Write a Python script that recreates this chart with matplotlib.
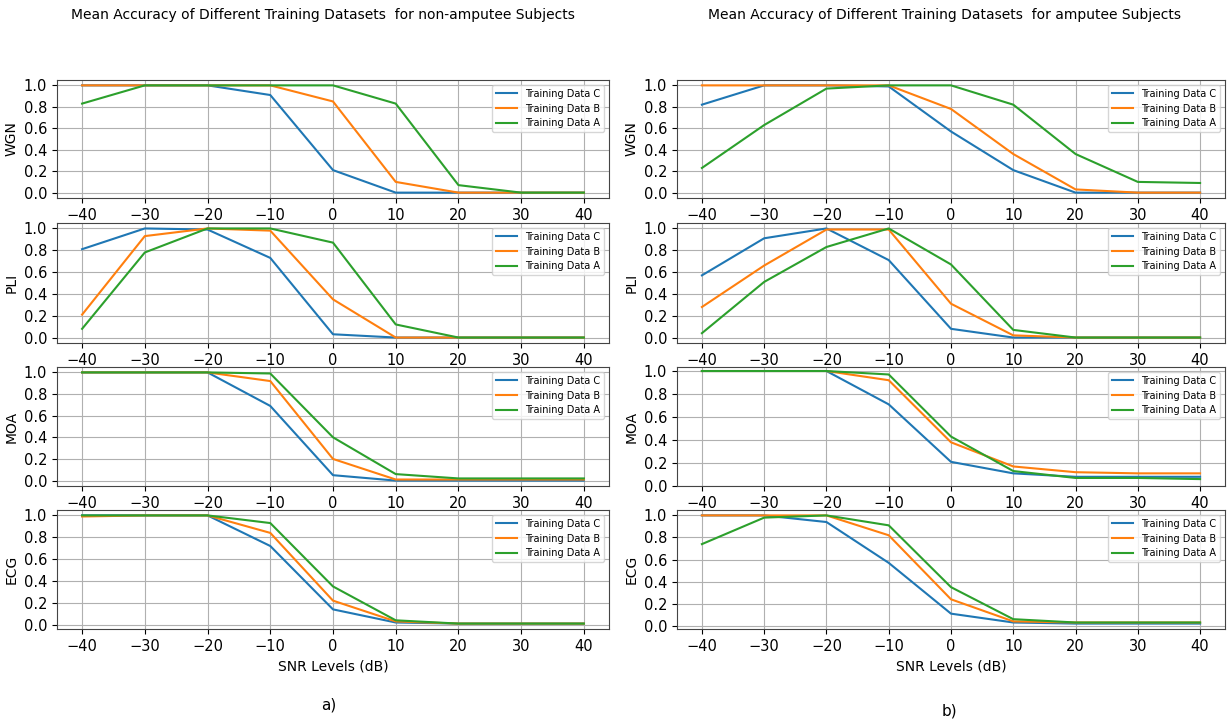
import matplotlib
matplotlib.use("Agg")
import matplotlib.pyplot as plt
import numpy as np

snr = [-40, -30, -20, -10, 0, 10, 20, 30, 40]
noise_types = ["WGN", "PLI", "MOA", "ECG"]
labels = ["Training Data C", "Training Data B", "Training Data A"]

# non-amputee subjects (a)
wgn_a = [[1.0, 1.0, 1.0, 0.91, 0.21, 0.0, 0.0, 0.0, 0.0],
         [1.0, 1.0, 1.0, 1.0, 0.85, 0.10, 0.0, 0.0, 0.0],
         [0.83, 1.0, 1.0, 1.0, 1.0, 0.83, 0.07, 0.0, 0.0]]
pli_a = [[0.81, 1.0, 0.99, 0.73, 0.03, 0.0, 0.0, 0.0, 0.0],
         [0.21, 0.93, 1.0, 0.98, 0.35, 0.0, 0.0, 0.0, 0.0],
         [0.08, 0.78, 1.0, 1.0, 0.87, 0.12, 0.0, 0.0, 0.0]]
moa_a = [[1.0, 1.0, 1.0, 0.69, 0.05, 0.0, 0.0, 0.0, 0.0],
         [1.0, 1.0, 1.0, 0.92, 0.20, 0.01, 0.01, 0.01, 0.01],
         [1.0, 1.0, 1.0, 0.99, 0.40, 0.06, 0.02, 0.02, 0.02]]
ecg_a = [[1.0, 1.0, 1.0, 0.72, 0.14, 0.02, 0.01, 0.01, 0.01],
         [0.99, 1.0, 1.0, 0.84, 0.22, 0.03, 0.01, 0.01, 0.01],
         [1.0, 1.0, 1.0, 0.93, 0.35, 0.04, 0.01, 0.01, 0.01]]

# amputee subjects (b)
wgn_b = [[0.82, 1.0, 1.0, 0.99, 0.57, 0.21, 0.0, 0.0, 0.0],
         [1.0, 1.0, 1.0, 1.0, 0.78, 0.36, 0.03, 0.0, 0.0],
         [0.23, 0.63, 0.97, 1.0, 1.0, 0.82, 0.36, 0.10, 0.09]]
pli_b = [[0.57, 0.91, 1.0, 0.71, 0.08, 0.0, 0.0, 0.0, 0.0],
         [0.28, 0.66, 0.99, 0.99, 0.31, 0.02, 0.0, 0.0, 0.0],
         [0.04, 0.51, 0.83, 1.0, 0.67, 0.07, 0.0, 0.0, 0.0]]
moa_b = [[1.0, 1.0, 1.0, 0.71, 0.21, 0.11, 0.08, 0.08, 0.08],
         [1.0, 1.0, 1.0, 0.92, 0.38, 0.17, 0.12, 0.11, 0.11],
         [1.0, 1.0, 1.0, 0.97, 0.43, 0.13, 0.07, 0.07, 0.06]]
ecg_b = [[1.0, 1.0, 0.94, 0.57, 0.11, 0.03, 0.02, 0.02, 0.02],
         [1.0, 1.0, 1.0, 0.82, 0.24, 0.04, 0.03, 0.03, 0.03],
         [0.74, 0.98, 1.0, 0.91, 0.35, 0.06, 0.03, 0.03, 0.03]]

W, H = 1227, 723
fig = plt.figure(figsize=(W / 100, H / 100), dpi=100)

cols = [(57, 609, [wgn_a, pli_a, moa_a, ecg_a]),
        (677, 1225, [wgn_b, pli_b, moa_b, ecg_b])]
rows = [(80, 198), (223, 343), (367, 486), (510, 629)]
colors = ["#1f77b4", "#ff7f0e", "#2ca02c"]

for ci, (x0, x1, panels) in enumerate(cols):
    for ri, (y0, y1) in enumerate(rows):
        ax = fig.add_axes([x0 / W, 1 - y1 / H, (x1 - x0) / W, (y1 - y0) / H])
        for k in range(3):
            ax.plot(snr, panels[ri][k], color=colors[k], lw=1.5, label=labels[k])
        ax.set_xticks(snr)
        ax.set_yticks([0.0, 0.2, 0.4, 0.6, 0.8, 1.0])
        ax.set_ylabel(noise_types[ri], fontsize=10)
        ax.tick_params(labelsize=10.5)
        ax.grid(True)
        if ci == 1 and ri == 2:
            ax.set_ylim(0, 1.035)
        ax.legend(loc="upper right", fontsize=7, handlelength=2.2)
        for s in ax.spines.values():
            s.set_edgecolor("#444444")
        if ri == 3:
            ax.set_xlabel("SNR Levels (dB)", fontsize=10)

fig.text(323 / W, 1 - 15 / H, "Mean Accuracy of Different Training Datasets  for non-amputee Subjects",
         ha="center", va="center", fontsize=10)
fig.text(944 / W, 1 - 15 / H, "Mean Accuracy of Different Training Datasets  for amputee Subjects",
         ha="center", va="center", fontsize=10)
fig.text(329 / W, 1 - 705 / H, "a)", ha="center", va="center", fontsize=11)
fig.text(949 / W, 1 - 711 / H, "b)", ha="center", va="center", fontsize=11)

fig.savefig("out.png", dpi=100)
